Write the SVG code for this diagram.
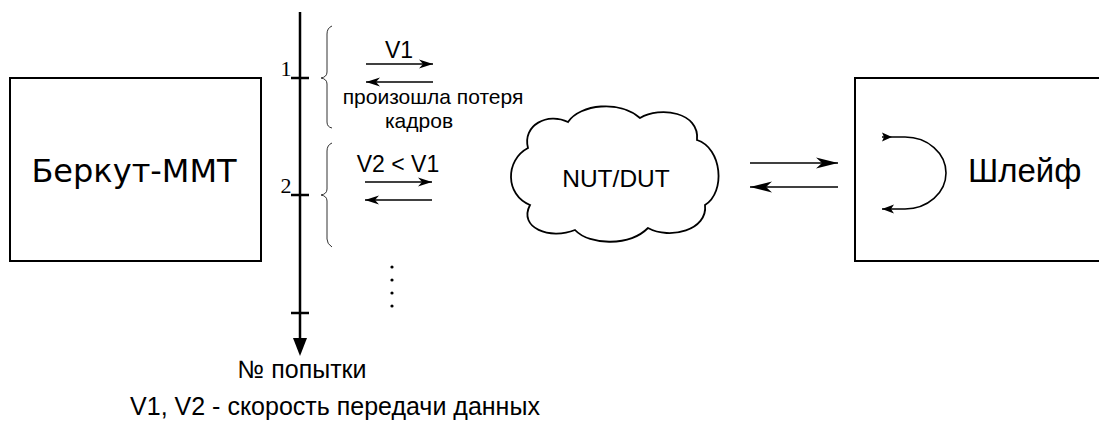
<svg xmlns="http://www.w3.org/2000/svg" width="1099" height="423" viewBox="0 0 1099 423">
<style>
.box{fill:#fff;stroke:#000;stroke-width:2}
.ln{fill:none;stroke:#000;stroke-width:1.6}
.br{fill:none;stroke:#333;stroke-width:1}
.ax{fill:none;stroke:#000;stroke-width:2.5}
.t{font-family:"Liberation Sans",Arial,sans-serif;fill:#000}
.d{font-family:"DejaVu Sans",Verdana,sans-serif;fill:#000}
.s{font-family:"Liberation Serif","Times New Roman",serif;fill:#000}
</style>
<defs>
<marker id="ah" viewBox="-14 -5 16 10" refX="0" refY="0" markerWidth="16" markerHeight="10" markerUnits="userSpaceOnUse" orient="auto">
<path d="M0,0 L-14,-4.5 L-10,0 L-14,4.5 Z" fill="#000"/>
</marker>
<marker id="ahL" viewBox="-22 -6 24 12" refX="0" refY="0" markerWidth="24" markerHeight="12" markerUnits="userSpaceOnUse" orient="auto">
<path d="M0,0 L-22,-5.5 L-16,0 L-22,5.5 Z" fill="#000"/>
</marker>
<marker id="ahB" viewBox="-1 -5 12 10" refX="0" refY="0" markerWidth="12" markerHeight="10" markerUnits="userSpaceOnUse" orient="auto">
<path d="M0,-4.5 L10,0 L0,4.5 L2,0 Z" fill="#000"/>
</marker>
<marker id="ahE" viewBox="-13 -5 14 10" refX="0" refY="0" markerWidth="14" markerHeight="10" markerUnits="userSpaceOnUse" orient="auto">
<path d="M0,0 L-12,-4.5 L-9,0 L-12,4.5 Z" fill="#000"/>
</marker>
</defs>
<rect width="1099" height="423" fill="#fff"/>

<g id="berkut">
<rect class="box" x="10" y="78" width="251" height="183"/>
<text class="d" x="134" y="182" font-size="32" text-anchor="middle">Беркут-ММТ</text>
</g>

<g id="axis">
<line class="ax" x1="300" y1="12" x2="300" y2="342"/>
<path d="M293,338 L307,338 L300,356 Z" fill="#000"/>
<line class="ax" x1="291" y1="78" x2="309" y2="78" stroke-width="2"/>
<line class="ax" x1="291" y1="195" x2="309" y2="195" stroke-width="2"/>
<line class="ax" x1="291" y1="313" x2="309" y2="313" stroke-width="2"/>
<text class="s" x="286" y="76" font-size="22" text-anchor="middle">1</text>
<text class="s" x="286" y="193" font-size="22" text-anchor="middle">2</text>
<text class="t" x="302" y="378" font-size="25" text-anchor="middle">№ попытки</text>
<text class="t" x="335" y="415" font-size="25" text-anchor="middle">V1, V2 - скорость передачи данных</text>
</g>

<g id="attempt1">
<path class="br" d="M332,26 Q327,28 327,34 L327,72 Q327,77 321,78 Q327,79 327,84 L327,122 Q327,127 332,128"/>
<text class="t" x="399" y="58" font-size="23" text-anchor="middle">V1</text>
<text class="t" x="433" y="104" font-size="21" text-anchor="middle">произошла потеря</text>
<text class="t" x="419" y="128" font-size="21" text-anchor="middle">кадров</text>
</g>

<g id="attempt2">
<path class="br" d="M332,143 Q327,145 327,151 L327,189 Q327,194 321,195 Q327,196 327,201 L327,239 Q327,244 332,247"/>
<text class="t" x="398" y="172" font-size="23" text-anchor="middle">V2 &lt; V1</text>
<circle cx="392" cy="267" r="1.6" fill="#000"/>
<circle cx="392" cy="280" r="1.6" fill="#000"/>
<circle cx="392" cy="293" r="1.6" fill="#000"/>
<circle cx="392" cy="306" r="1.6" fill="#000"/>
</g>

<g id="nut">
<path fill="#fff" stroke="#000" stroke-width="1.8" d="M528,148 C522,125 548,112 568,122 C580,104 620,100 640,118 C660,106 700,112 697,140 C722,148 726,192 705,205 C708,230 670,240 648,228 C630,246 590,246 575,230 C550,240 518,228 530,205 C505,195 505,160 528,148 Z"/>
<text class="t" x="616" y="187" font-size="24.5" text-anchor="middle">NUT/DUT</text>
</g>

<g id="loop">
<rect class="box" x="855" y="78" width="260" height="183"/>
<path class="ln" d="M882,137 L905,137 A41,36 0 0 1 905,209 L882,209" marker-start="url(#ahB)" marker-end="url(#ahE)"/>
<text class="t" x="968" y="182" font-size="33">Шлейф</text>
</g>

<g id="connectors">
<line class="ln" x1="366" y1="64" x2="433" y2="64" marker-end="url(#ah)"/>
<line class="ln" x1="433" y1="82" x2="366" y2="82" marker-end="url(#ah)"/>
<line class="ln" x1="365" y1="182" x2="432" y2="182" marker-end="url(#ah)"/>
<line class="ln" x1="432" y1="200" x2="365" y2="200" marker-end="url(#ah)"/>
<line class="ln" x1="750" y1="163" x2="838" y2="163" marker-end="url(#ahL)"/>
<line class="ln" x1="838" y1="187" x2="750" y2="187" marker-end="url(#ahL)"/>
</g>
</svg>
